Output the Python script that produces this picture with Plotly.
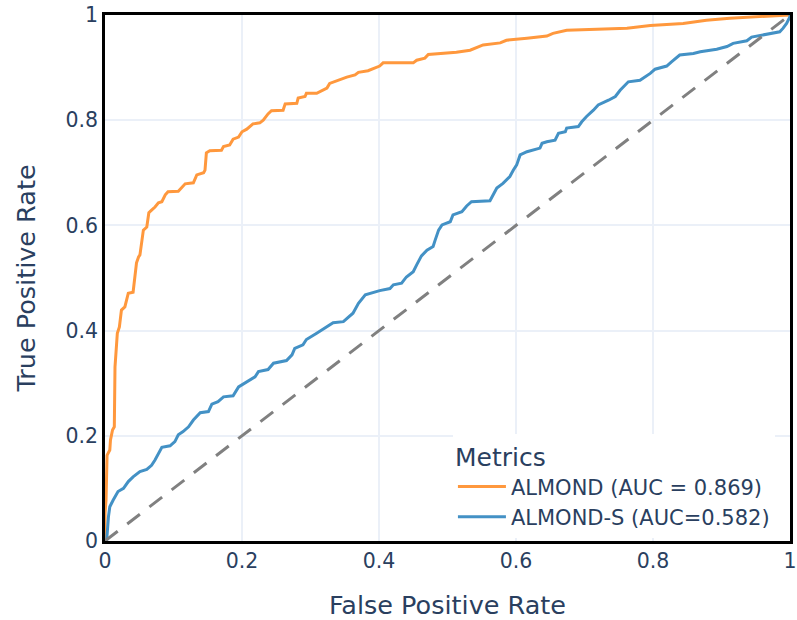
import plotly.graph_objects as go

almond_fpr = [0, 0, 0.0015, 0.0025, 0.003, 0.007, 0.008, 0.011, 0.0136, 0.0146, 0.017, 0.018, 0.021, 0.024,
              0.029, 0.031, 0.034, 0.041, 0.044, 0.046, 0.049, 0.051, 0.054, 0.056, 0.061, 0.064, 0.068,
              0.073, 0.078, 0.083, 0.088, 0.092, 0.107, 0.112, 0.117, 0.129, 0.134, 0.144, 0.146, 0.148,
              0.153, 0.170, 0.173, 0.182, 0.187, 0.195, 0.200, 0.207, 0.212, 0.216, 0.226, 0.231, 0.238,
              0.243, 0.260, 0.263, 0.280, 0.282, 0.292, 0.294, 0.309, 0.324, 0.328, 0.338, 0.353, 0.365,
              0.370, 0.384, 0.389, 0.401, 0.406, 0.450, 0.455, 0.467, 0.472, 0.513, 0.533, 0.552, 0.577,
              0.586, 0.616, 0.645, 0.654, 0.674, 0.762, 0.796, 0.844, 0.878, 0.912, 0.956, 1.0]
almond_tpr = [0, 0.053, 0.078, 0.163, 0.163, 0.173, 0.192, 0.211, 0.217, 0.331, 0.369, 0.395, 0.407, 0.439,
              0.445, 0.458, 0.471, 0.473, 0.510, 0.529, 0.540, 0.544, 0.572, 0.591, 0.597, 0.624, 0.629,
              0.635, 0.643, 0.645, 0.658, 0.664, 0.665, 0.673, 0.679, 0.681, 0.696, 0.700, 0.705, 0.738,
              0.742, 0.743, 0.750, 0.753, 0.764, 0.768, 0.778, 0.783, 0.788, 0.793, 0.795, 0.800, 0.812,
              0.818, 0.819, 0.831, 0.832, 0.842, 0.845, 0.851, 0.851, 0.861, 0.870, 0.875, 0.882, 0.886,
              0.891, 0.894, 0.897, 0.903, 0.909, 0.909, 0.914, 0.918, 0.925, 0.929, 0.933, 0.943, 0.947,
              0.952, 0.956, 0.960, 0.965, 0.971, 0.975, 0.980, 0.984, 0.990, 0.994, 0.997, 1.0]

almond_s_fpr = [0, 0.0025, 0.005, 0.007, 0.012, 0.019, 0.027, 0.034, 0.041, 0.051, 0.061, 0.068, 0.073,
                0.078, 0.083, 0.095, 0.102, 0.107, 0.114, 0.122, 0.129, 0.139, 0.151, 0.156, 0.165, 0.173,
                0.187, 0.195, 0.207, 0.219, 0.224, 0.238, 0.246, 0.265, 0.273, 0.277, 0.289, 0.294, 0.309,
                0.316, 0.333, 0.348, 0.362, 0.370, 0.380, 0.401, 0.416, 0.421, 0.433, 0.440, 0.450, 0.455,
                0.462, 0.470, 0.479, 0.482, 0.487, 0.492, 0.504, 0.508, 0.521, 0.528, 0.535, 0.562, 0.567,
                0.572, 0.581, 0.591, 0.596, 0.601, 0.606, 0.616, 0.635, 0.638, 0.645, 0.657, 0.662, 0.672,
                0.674, 0.691, 0.696, 0.703, 0.713, 0.720, 0.735, 0.745, 0.752, 0.764, 0.781, 0.796, 0.803,
                0.820, 0.827, 0.839, 0.859, 0.869, 0.893, 0.908, 0.917, 0.937, 0.944, 0.966, 0.985, 0.990,
                0.995, 1.0, 1.0]
almond_s_tpr = [0, 0.002, 0.046, 0.065, 0.078, 0.094, 0.100, 0.113, 0.122, 0.132, 0.136, 0.144, 0.154,
                0.167, 0.178, 0.181, 0.189, 0.202, 0.208, 0.217, 0.230, 0.244, 0.246, 0.260, 0.265, 0.274,
                0.276, 0.293, 0.303, 0.312, 0.322, 0.326, 0.338, 0.343, 0.354, 0.366, 0.373, 0.383, 0.395,
                0.401, 0.415, 0.417, 0.433, 0.452, 0.468, 0.476, 0.480, 0.487, 0.490, 0.502, 0.512, 0.525,
                0.542, 0.553, 0.560, 0.572, 0.591, 0.601, 0.607, 0.620, 0.626, 0.637, 0.645, 0.647, 0.658,
                0.671, 0.680, 0.693, 0.705, 0.715, 0.734, 0.740, 0.747, 0.756, 0.759, 0.762, 0.775, 0.778,
                0.785, 0.788, 0.797, 0.807, 0.819, 0.829, 0.838, 0.845, 0.857, 0.873, 0.876, 0.889, 0.897,
                0.903, 0.911, 0.924, 0.927, 0.930, 0.935, 0.940, 0.946, 0.951, 0.958, 0.964, 0.968, 0.975,
                0.984, 0.997, 1.0]

chance = [0, 1]
tick_vals = [0, 0.2, 0.4, 0.6, 0.8, 1]
tick_text = ["0", "0.2", "0.4", "0.6", "0.8", "1"]

FONT = "DejaVu Sans"
TXT = "#2a3f5f"

fig = go.Figure()
fig.add_trace(go.Scatter(x=almond_fpr, y=almond_tpr, mode="lines",
                         name="ALMOND (AUC = 0.869)",
                         line=dict(color="#ff983d", width=3)))
fig.add_trace(go.Scatter(x=almond_s_fpr, y=almond_s_tpr, mode="lines",
                         name="ALMOND-S (AUC=0.582)",
                         line=dict(color="#4391c5", width=3)))
fig.add_trace(go.Scatter(x=chance, y=chance, mode="lines", showlegend=False,
                         line=dict(color="grey", width=3, dash="16px,12px")))

axis_common = dict(range=[0, 1], tickvals=tick_vals, ticktext=tick_text,
                   showline=True, linecolor="black", linewidth=2.5, mirror=True,
                   showgrid=True, gridcolor="#EBF0F8", gridwidth=1.5, zeroline=False,
                   tickfont=dict(family=FONT, size=20.5, color=TXT),
                   ticks="", fixedrange=True, automargin=False)

fig.update_layout(
    width=797, height=620,
    margin=dict(l=105, r=7, t=15, b=79),
    template="plotly_white",
    plot_bgcolor="white", paper_bgcolor="white",
    font=dict(family=FONT, color=TXT),
    xaxis=dict(title=dict(text="False Positive Rate", font=dict(family=FONT, size=25.5, color=TXT), standoff=24),
               **axis_common),
    yaxis=dict(title=dict(text="True Positive Rate", font=dict(family=FONT, size=25.5, color=TXT), standoff=23),
               **axis_common),
    legend=dict(title=dict(text="Metrics", font=dict(family=FONT, size=25, color=TXT)),
                font=dict(family=FONT, size=21, color=TXT),
                x=0.978, y=0.006, xanchor="right", yanchor="bottom",
                itemwidth=48,
                bgcolor="white", borderwidth=0),
)

fig.write_html("out.html")
